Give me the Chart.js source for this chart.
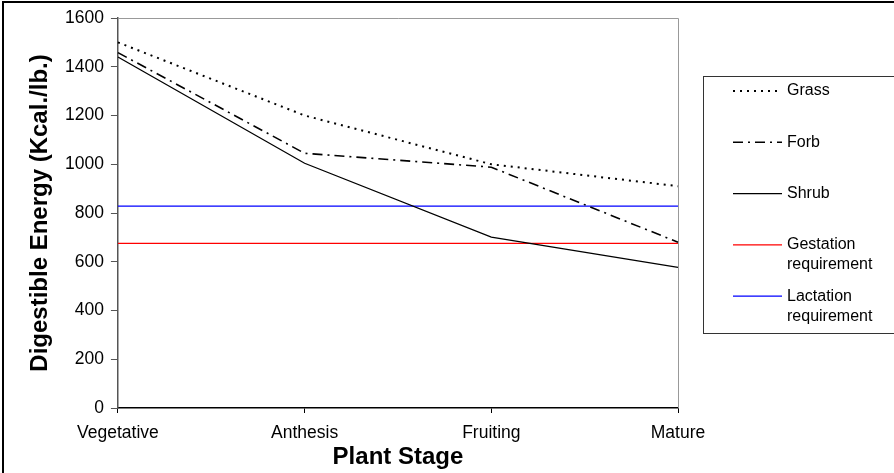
<!DOCTYPE html>
<html>
	<head>
		<meta charset="utf-8" />
		<script src="https://cdn.jsdelivr.net/npm/chart.js@4.4.1/dist/chart.umd.min.js"></script>
		<style>
			body {
				margin: 0;
				background: #fff;
			}
		</style>
		<title>Digestible Energy by Plant Stage</title>
	</head>
	<body>
		<canvas id="myChart" width="894" height="473"></canvas>
		<script>
			// Data
			const stages = ["Vegetative", "Anthesis", "Fruiting", "Mature"];
			const grass = [1500, 1200, 1000, 910];
			const forb = [1458, 1045, 988, 680];
			const shrub = [1440, 1004, 701, 577];
			const gestation = [675, 675, 675, 675];
			const lactation = [828, 828, 828, 828];
			// legend text, split on the lines the box shows
			const legendText = [
				["Grass"],
				["Forb"],
				["Shrub"],
				["Gestation", "requirement"],
				["Lactation", "requirement"],
			];

			const font = "'Liberation Sans', Arial, sans-serif";

			// white page, frame, plot box edges and the boxed legend
			const framePlugin = {
				id: "frame",
				beforeDraw(chart) {
					const ctx = chart.ctx;
					ctx.save();
					ctx.fillStyle = "#fff";
					ctx.fillRect(0, 0, chart.width, chart.height);
					ctx.restore();
				},
				beforeDatasetsDraw(chart) {
					const ctx = chart.ctx;
					const a = chart.chartArea;
					ctx.save();
					ctx.strokeStyle = "#999";
					ctx.lineWidth = 1;
					ctx.beginPath();
					ctx.moveTo(a.left, a.top + 0.5);
					ctx.lineTo(a.right + 0.5, a.top + 0.5);
					ctx.lineTo(a.right + 0.5, a.bottom);
					ctx.stroke();
					ctx.restore();
				},
				afterDraw(chart) {
					const ctx = chart.ctx;
					ctx.save();
					// outer frame (top and left edges only, the rest is cut off)
					ctx.strokeStyle = "#000";
					ctx.lineWidth = 2;
					ctx.beginPath();
					ctx.moveTo(chart.width, 2);
					ctx.lineTo(3, 2);
					ctx.lineTo(3, chart.height);
					ctx.stroke();

					// legend box
					ctx.strokeStyle = "#333";
					ctx.lineWidth = 1;
					ctx.strokeRect(703.5, 76.5, 200, 257);

					ctx.font = "16px " + font;
					ctx.fillStyle = "#000";
					ctx.textBaseline = "middle";
					chart.data.datasets.forEach((ds, i) => {
						const y = 91 + i * 51.3;
						ctx.save();
						ctx.strokeStyle = ds.borderColor;
						ctx.lineWidth = ds.borderWidth;
						ctx.setLineDash(ds.borderDash || []);
						ctx.beginPath();
						ctx.moveTo(733, y);
						ctx.lineTo(782, y);
						ctx.stroke();
						ctx.restore();
						legendText[i].forEach((t, j) => {
							ctx.fillText(t, 787, y + j * 20);
						});
					});
					ctx.restore();
				},
			};

			new Chart(document.getElementById("myChart").getContext("2d"), {
				type: "line",
				data: {
					labels: stages,
					datasets: [
						{
							label: "Grass",
							data: grass,
							borderColor: "#000",
							borderWidth: 2,
							borderDash: [2, 5],
						},
						{
							label: "Forb",
							data: forb,
							borderColor: "#000",
							borderWidth: 1.6,
							borderDash: [10, 5, 2, 5],
						},
						{
							label: "Shrub",
							data: shrub,
							borderColor: "#000",
							borderWidth: 1.3,
						},
						{
							label: "Gestation requirement",
							data: gestation,
							borderColor: "#ff0000",
							borderWidth: 1.3,
						},
						{
							label: "Lactation requirement",
							data: lactation,
							borderColor: "#0000ff",
							borderWidth: 1.3,
						},
					],
				},
				options: {
					responsive: false,
					animation: false,
					elements: {
						point: { radius: 0 },
						line: { tension: 0 },
					},
					layout: {
						padding: { top: 18, left: 28, right: 216, bottom: 4 },
					},
					plugins: {
						legend: { display: false },
						tooltip: { enabled: false },
					},
					scales: {
						x: {
							offset: false,
							grid: {
								offset: false,
								drawOnChartArea: false,
								tickLength: 5,
								color: "#000",
							},
							border: { color: "#000", width: 1.5 },
							ticks: {
								color: "#000",
								font: { family: font, size: 17.5, lineHeight: 1 },
								padding: 11.25,
								maxRotation: 0,
							},
							title: {
								display: true,
								text: "Plant Stage",
								color: "#000",
								font: { family: font, size: 24, weight: "bold", lineHeight: 1 },
								// Chart.js reserves the tick padding twice, take it back here
								padding: { top: -8, bottom: 0 },
							},
						},
						y: {
							min: 0,
							max: 1600,
							grid: {
								drawOnChartArea: false,
								tickLength: 7,
								color: "#555",
							},
							border: { color: "#555", width: 1.5 },
							ticks: {
								stepSize: 200,
								color: "#000",
								font: { family: font, size: 17.5 },
								padding: 7,
								callback: (v) => String(v),
							},
							title: {
								display: true,
								text: "Digestible Energy (Kcal./lb.)",
								color: "#000",
								font: { family: font, size: 24, weight: "bold", lineHeight: 1 },
								padding: { top: 0, bottom: 6 },
							},
						},
					},
				},
				plugins: [framePlugin],
			});
		</script>
	</body>
</html>
